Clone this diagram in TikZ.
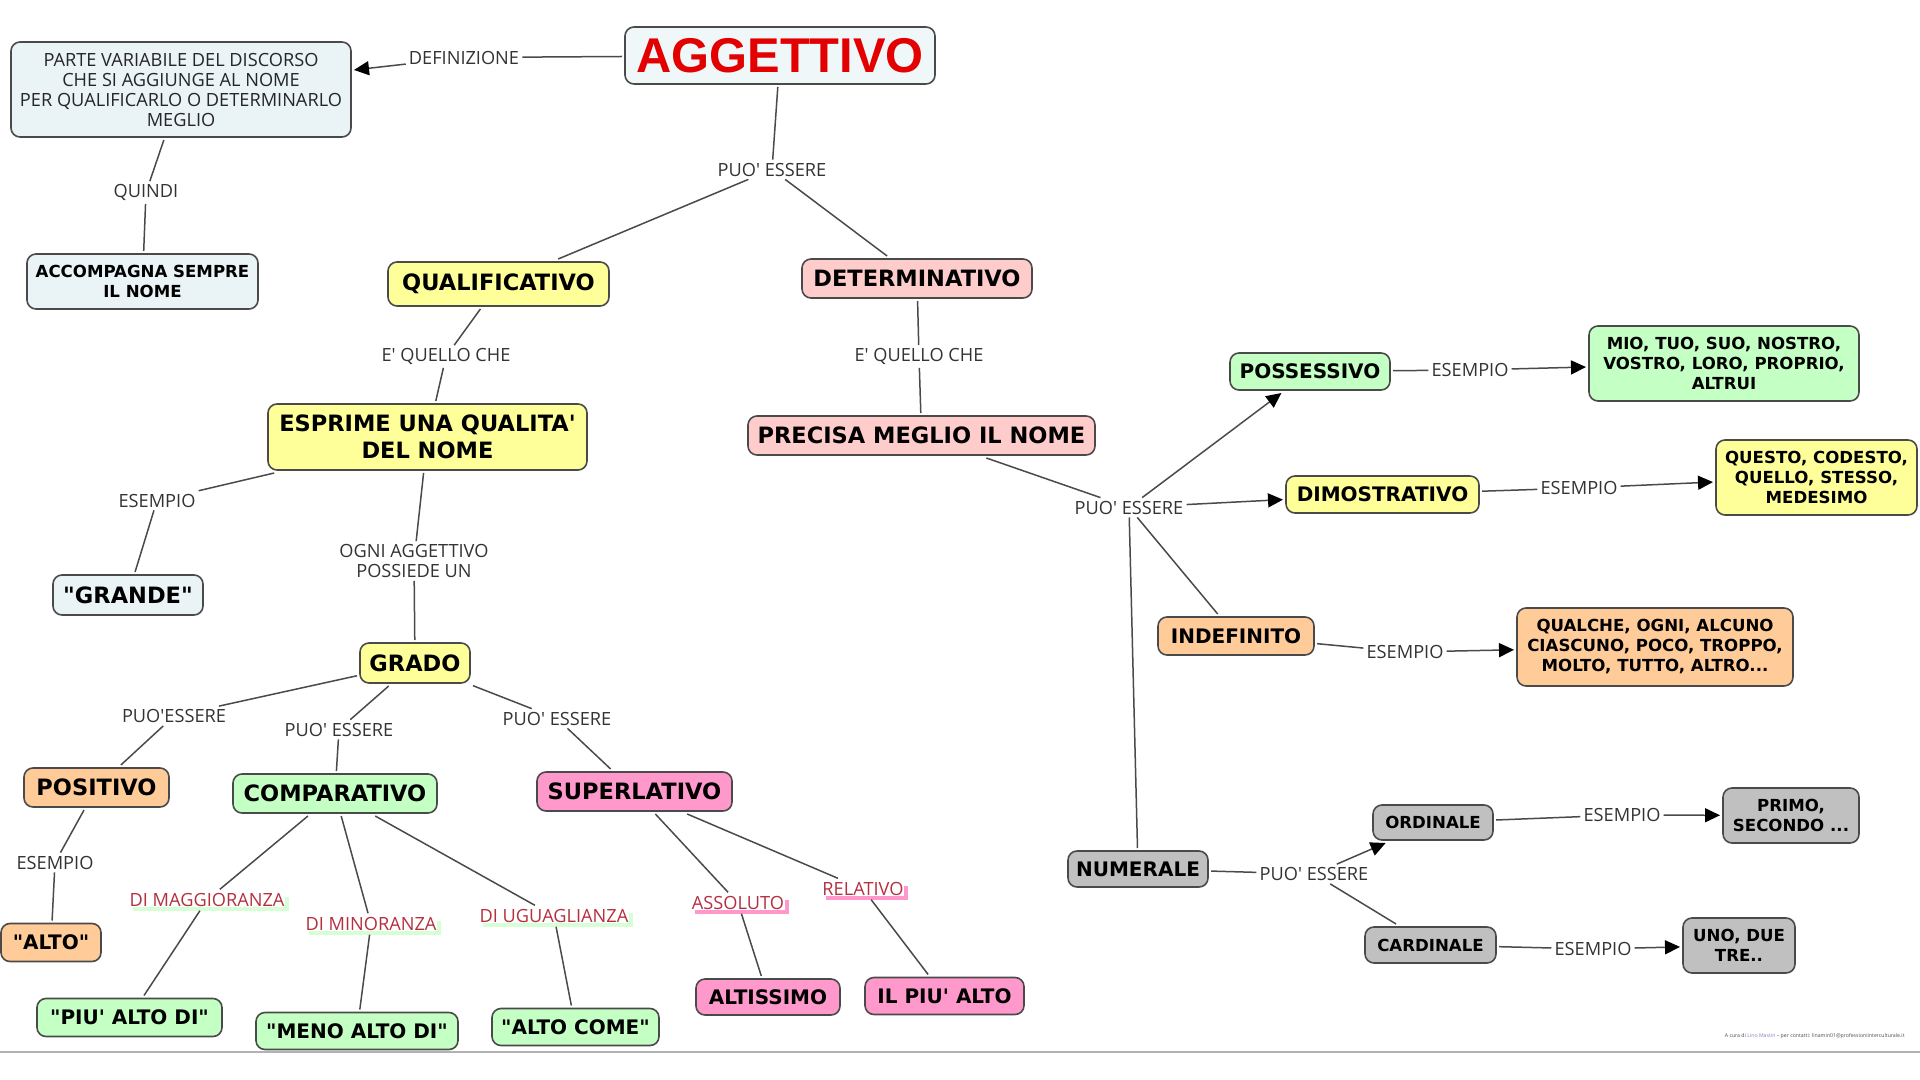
\documentclass[tikz,border=0pt]{standalone}
\usepackage{fontspec}
\setmainfont[Ligatures=TeXOff]{Open Sans}
\newfontfamily\verd{DejaVu Sans}
\newfontfamily\arialb{Liberation Sans}
\usetikzlibrary{arrows.meta,shadows}

\definecolor{cblue}{HTML}{EAF3F6}
\definecolor{cyell}{HTML}{FFFF99}
\definecolor{cpink}{HTML}{FFCCCC}
\definecolor{cgreen}{HTML}{C4FFC4}
\definecolor{corange}{HTML}{FFCC99}
\definecolor{cmag}{HTML}{FF99CC}
\definecolor{cgray}{HTML}{C0C0C0}
\definecolor{cedge}{HTML}{4A4A4A}
\definecolor{cred}{HTML}{B5303F}

\tikzset{
  conc/.style={draw=cedge,line width=0.8pt,rounded corners=4.5pt,fill=#1,align=center,inner sep=0pt,outer sep=1.5pt,text=black},
  fa/.style={font=\verd\bfseries\fontsize{11.25}{13.2}\selectfont},
  fb/.style={font=\verd\bfseries\fontsize{10}{11.2}\selectfont},
  fc/.style={font=\verd\bfseries\fontsize{8.3}{10}\selectfont},
  lab/.style={font=\fontsize{9.1}{10}\selectfont,text=black!80,align=center,inner sep=1.6pt,outer sep=0pt},
  mark1/.style={lab,text=cred,fill=white,inner sep=0.4pt,outer sep=1.6pt,drop shadow={shadow xshift=2pt,shadow yshift=-2pt,fill=#1,opacity=1}},
  lnk/.style={draw=cedge,line width=0.75pt},
  arr/.style={lnk,-{Triangle[length=7.5pt,width=7pt,black]}}
}

\begin{document}
\begin{tikzpicture}[x=0.5pt,y=-0.5pt]
\useasboundingbox (0,0) rectangle (1920,1080);

% nodi a sinistra
\node[conc=cblue!70!white,minimum width=155pt,minimum height=28.5pt,font=\arialb\bfseries\fontsize{24.4}{26}\selectfont,text={rgb,255:red,226;green,0;blue,0}] (agg) at (780,55.5) {AGGETTIVO};
\node[conc=cblue,minimum width=170pt,minimum height=47.5pt,font=\fontsize{9.1}{10}\selectfont,text=black!85] (parte) at (181,89.5) {PARTE VARIABILE DEL DISCORSO\\CHE SI AGGIUNGE AL NOME\\PER QUALIFICARLO O DETERMINARLO\\MEGLIO};
\node[conc=cblue,fc,minimum width=115.5pt,minimum height=27.5pt] (accomp) at (142.5,281.5) {ACCOMPAGNA SEMPRE\\IL NOME};
\node[conc=cyell,fa,minimum width=110.5pt,minimum height=22pt] (qual) at (498.5,284) {QUALIFICATIVO};
\node[conc=cpink,fa,minimum width=115pt,minimum height=19.5pt] (det) at (917,278.5) {DETERMINATIVO};
\node[conc=cyell,fa,minimum width=159.5pt,minimum height=33pt] (esprime) at (427.5,437) {ESPRIME UNA QUALITA'\\DEL NOME};
\node[conc=cpink,fa,minimum width=173.5pt,minimum height=19.5pt] (precisa) at (921.5,435.5) {PRECISA MEGLIO IL NOME};
\node[conc=cblue,fa,minimum width=75pt,minimum height=20pt] (grande) at (128,595) {"GRANDE"};
\node[conc=cyell,fa,minimum width=55pt,minimum height=20pt] (grado) at (415,663) {GRADO};

\node[conc=corange,fa,minimum width=72.5pt,minimum height=19.5pt] (posit) at (96.5,787.5) {POSITIVO};
\node[conc=cgreen,fa,minimum width=102pt,minimum height=19.5pt] (comp) at (335,793.5) {COMPARATIVO};
\node[conc=cmag,fa,minimum width=97.5pt,minimum height=19.5pt] (sup) at (634.5,791.5) {SUPERLATIVO};
\node[conc=corange,fb,minimum width=50pt,minimum height=19pt] (alto) at (51,942.5) {"ALTO"};
\node[conc=cgreen,fb,minimum width=92.5pt,minimum height=19pt] (piu) at (129.5,1017.5) {"PIU' ALTO DI"};
\node[conc=cgreen,fb,minimum width=101pt,minimum height=18.5pt] (meno) at (357,1031) {"MENO ALTO DI"};
\node[conc=cgreen,fb,minimum width=83.5pt,minimum height=18.5pt] (come) at (575.5,1027) {"ALTO COME"};
\node[conc=cmag,fb,minimum width=72pt,minimum height=18pt] (altis) at (768,997) {ALTISSIMO};
\node[conc=cmag,fb,minimum width=79.5pt,minimum height=18.5pt] (ilpiu) at (944.5,996) {IL PIU' ALTO};

% nodi a destra
\node[conc=cgreen,fb,minimum width=80pt,minimum height=18.5pt] (poss) at (1310,371.5) {POSSESSIVO};
\node[conc=cgreen,fc,minimum width=135pt,minimum height=37.5pt] (mio) at (1724,363.5) {MIO, TUO, SUO, NOSTRO,\\VOSTRO, LORO, PROPRIO,\\ALTRUI};
\node[conc=cyell,fb,minimum width=96.5pt,minimum height=18.5pt] (dim) at (1382.5,494.5) {DIMOSTRATIVO};
\node[conc=cyell,fc,minimum width=100.5pt,minimum height=37.5pt] (questo) at (1816.5,477.5) {QUESTO, CODESTO,\\QUELLO, STESSO,\\MEDESIMO};
\node[conc=corange,fb,minimum width=78pt,minimum height=19pt] (indef) at (1236,636) {INDEFINITO};
\node[conc=corange,fc,minimum width=138pt,minimum height=39pt] (qualche) at (1655,647) {QUALCHE, OGNI, ALCUNO\\CIASCUNO, POCO, TROPPO,\\MOLTO, TUTTO, ALTRO...};
\node[conc=cgray,fb,minimum width=70pt,minimum height=18pt] (num) at (1138,869) {NUMERALE};
\node[conc=cgray,fc,minimum width=60pt,minimum height=17.5pt] (ord) at (1433,822.5) {ORDINALE};
\node[conc=cgray,fc,minimum width=68pt,minimum height=27.5pt] (primo) at (1791,815.5) {PRIMO,\\SECONDO ...};
\node[conc=cgray,fc,minimum width=65.5pt,minimum height=18pt] (card) at (1430.5,945) {CARDINALE};
\node[conc=cgray,fc,minimum width=56pt,minimum height=27.5pt] (uno) at (1739,945.5) {UNO, DUE\\TRE..};

% etichette
\node[lab] (defin) at (464,57.5) {DEFINIZIONE};
\node[lab] (quindi) at (146,192.5) {QUINDI};
\node[lab] (puoa) at (772,169.5) {PUO' ESSERE};
\node[lab] (quela) at (446,356.5) {E' QUELLO CHE};
\node[lab] (quelb) at (919,356.5) {E' QUELLO CHE};
\node[lab] (esa) at (157,500.5) {ESEMPIO};
\node[lab] (ogni) at (414,561) {OGNI AGGETTIVO\\POSSIEDE UN};
\node[lab] (puob) at (174,716) {PUO'ESSERE};
\node[lab] (puoc) at (339,729.5) {PUO' ESSERE};
\node[lab] (puod) at (557,718.5) {PUO' ESSERE};
\node[lab] (esb) at (55,862.5) {ESEMPIO};
\node[lab] (puoe) at (1129,507.5) {PUO' ESSERE};
\node[lab] (puof) at (1314,874) {PUO' ESSERE};
\node[lab] (esc) at (1470,370) {ESEMPIO};
\node[lab] (esd) at (1579,488) {ESEMPIO};
\node[lab] (ese) at (1405,652) {ESEMPIO};
\node[lab] (esf) at (1622,815) {ESEMPIO};
\node[lab] (esg) at (1593,949) {ESEMPIO};

\node[mark1=cgreen!70!white] (magg) at (207,900) {DI MAGGIORANZA};
\node[mark1=cgreen!70!white] (mino) at (371,924) {DI MINORANZA};
\node[mark1=cgreen!70!white] (ugua) at (554,916) {DI UGUAGLIANZA};
\node[mark1=cmag] (assol) at (738,903) {ASSOLUTO};
\node[mark1=cmag] (relat) at (863,889) {RELATIVO};

% collegamenti
\foreach \a/\b in {agg/defin,parte/quindi,quindi/accomp,agg/puoa,puoa/qual,puoa/det,qual/quela,quela/esprime,det/quelb,quelb/precisa,esprime/esa,esa/grande,esprime/ogni,ogni/grado,grado/puob,puob/posit,grado/puoc,puoc/comp,grado/puod,puod/sup,posit/esb,esb/alto,comp/magg,magg/piu,comp/mino,mino/meno,comp/ugua,ugua/come,sup/assol,assol/altis,sup/relat,relat/ilpiu,precisa/puoe,puoe/indef,puoe/num,poss/esc,dim/esd,indef/ese,num/puof,puof/card,ord/esf,card/esg}
{
\draw[lnk] (\a) -- (\b);
}
\foreach \a/\b in {defin/parte,puoe/poss,puoe/dim,esc/mio,esd/questo,ese/qualche,puof/ord,esf/primo,esg/uno}
{
\draw[arr] (\a) -- (\b);
}

% linea in basso e firma
\coordinate (fl) at (0,1052);
\coordinate (fr) at (1920,1052);
\draw[black!30,line width=0.6pt] (fl) -- (fr);
\node[font=\fontsize{2.6}{4}\selectfont,text=black!70,inner sep=0pt,anchor=east] (firma) at (1905,1036) {A cura di \textcolor{blue!50!black!50}{Lino Mastin} – per contatti: linamin01@professioniinterculturale.it};

\end{tikzpicture}
\end{document}
